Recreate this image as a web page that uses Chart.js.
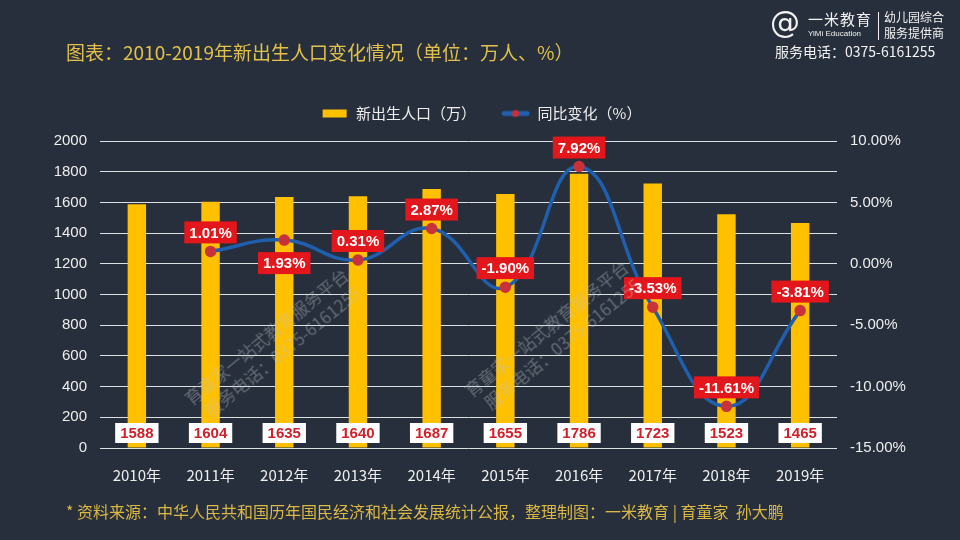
<!DOCTYPE html>
<html lang="zh-CN">
<head>
<meta charset="utf-8">
<title>2010-2019年新出生人口变化情况</title>
<script src="https://cdn.jsdelivr.net/npm/chart.js@4.4.1/dist/chart.umd.min.js"></script>
<style>
  html, body { margin: 0; padding: 0; }
  body {
    width: 960px; height: 540px; overflow: hidden; position: relative;
    background: #262f3b;
    font-family: "Noto Sans CJK SC", "Noto Sans", sans-serif;
  }
  #chartBox { position: absolute; left: 0; top: 0; width: 960px; height: 540px; }
  .title {
    position: absolute; left: 66px; top: 40px;
    color: #e2c04c; font-size: 19px; line-height: 24px; white-space: nowrap;
  }
  .footer {
    position: absolute; left: 66px; top: 500px;
    color: #dcb845; font-size: 16px; line-height: 22px; white-space: nowrap;
  }
  .phone {
    position: absolute; left: 775px; top: 42px;
    color: #f2f2f2; font-size: 14px; line-height: 18px; white-space: nowrap;
  }
  .logo { position: absolute; left: 770px; top: 8px; height: 34px; color: #f2f2f2; white-space: nowrap; }
  .logo .at { position: absolute; left: 0; top: -2px; font-size: 30px; font-family: "DejaVu Sans", sans-serif; line-height: 34px; }
  .logo .brand { position: absolute; left: 38px; top: 2px; font-size: 15px; line-height: 18px; letter-spacing: 1px; }
  .logo .en { position: absolute; left: 38px; top: 21px; font-size: 8px; line-height: 10px; font-family: "Liberation Sans", sans-serif; }
  .logo .bar { position: absolute; left: 108px; top: 4px; width: 1px; height: 28px; background: #f2f2f2; }
  .logo .svc { position: absolute; left: 114px; top: 1px; font-size: 12px; line-height: 16px; }
  .wm {
    position: absolute; color: rgba(190, 196, 204, 0.4); font-size: 17px; line-height: 22px;
    white-space: nowrap; transform-origin: left top; transform: rotate(-39deg); pointer-events: none;
  }
</style>
</head>
<body>
<div id="chartBox"><canvas id="birthChart" width="960" height="540"></canvas></div>

<div class="title">图表：2010-2019年新出生人口变化情况（单位：万人、%）</div>

<div class="logo">
  <span class="at">@</span>
  <span class="brand">一米教育</span>
  <span class="en">YiMi Education</span>
  <span class="bar"></span>
  <span class="svc">幼儿园综合<br>服务提供商</span>
</div>
<div class="phone">服务电话：0375-6161255</div>

<div class="wm" style="left:180px; top:392px;">育童家一站式教育服务平台<br>&nbsp;&nbsp;服务电话：0375-6161255</div>
<div class="wm" style="left:460px; top:384px;">育童家一站式教育服务平台<br>&nbsp;&nbsp;服务电话：0375-6161255</div>

<div class="footer">* 资料来源：中华人民共和国历年国民经济和社会发展统计公报，整理制图：一米教育 | 育童家&nbsp;&nbsp;孙大鹏</div>

<script>
// data
const years = ["2010年", "2011年", "2012年", "2013年", "2014年", "2015年", "2016年", "2017年", "2018年", "2019年"];
const births = [1588, 1604, 1635, 1640, 1687, 1655, 1786, 1723, 1523, 1465];
const yoyChange = [null, 1.01, 1.93, 0.31, 2.87, -1.90, 7.92, -3.53, -11.61, -3.81];
// where each % label sits relative to its point
const yoyLabelSide = [null, "above", "below", "above", "above", "above", "above", "above", "above", "above"];

const BAR_COLOR = "#ffc000";
const LINE_COLOR = "#1f5fae";
const POINT_COLOR = "#c8323a";
const LABEL_RED = "#e3161b";
const TEXT_LIGHT = "#eeeeee";

// little legend icons
function makeIcon(draw) {
  const c = document.createElement("canvas");
  c.width = 30; c.height = 12;
  draw(c.getContext("2d"));
  return c;
}
const barIcon = makeIcon(g => {
  g.fillStyle = BAR_COLOR;
  g.fillRect(4, 2, 24, 8);
});
const lineIcon = makeIcon(g => {
  g.strokeStyle = LINE_COLOR;
  g.lineWidth = 5;
  g.lineCap = "round";
  g.beginPath(); g.moveTo(4, 6); g.lineTo(27, 6); g.stroke();
  g.fillStyle = POINT_COLOR;
  g.beginPath(); g.arc(15.5, 6, 3.5, 0, Math.PI * 2); g.fill();
});

// extra gap under the legend
const legendGap = {
  id: "legendGap",
  beforeUpdate(chart) {
    const lg = chart.legend;
    if (!lg || lg._gapPatched) return;
    const fit = lg.fit;
    lg.fit = function () {
      fit.call(this);
      this.height += 10;
    };
    lg._gapPatched = true;
  }
};

// value boxes on bars and on the line
const valueLabels = {
  id: "valueLabels",
  afterDatasetsDraw(chart) {
    const ctx = chart.ctx;
    const base = chart.scales.y.getPixelForValue(0);
    ctx.save();
    ctx.font = "bold 15px 'Liberation Sans', Arial, sans-serif";
    ctx.textAlign = "center";
    ctx.textBaseline = "middle";

    chart.getDatasetMeta(0).data.forEach((bar, i) => {
      const txt = String(births[i]);
      const w = ctx.measureText(txt).width + 10;
      const cy = base - 15;
      ctx.fillStyle = "#ffffff";
      ctx.fillRect(bar.x - w / 2, cy - 10, w, 20);
      ctx.fillStyle = "#d0212b";
      ctx.fillText(txt, bar.x, cy + 1);
    });

    chart.getDatasetMeta(1).data.forEach((pt, i) => {
      if (yoyChange[i] === null) return;
      const txt = yoyChange[i].toFixed(2) + "%";
      const w = ctx.measureText(txt).width + 10;
      const cy = yoyLabelSide[i] === "below" ? pt.y + 23 : pt.y - 19;
      ctx.fillStyle = LABEL_RED;
      ctx.fillRect(pt.x - w / 2, cy - 11, w, 22);
      ctx.fillStyle = "#ffffff";
      ctx.fillText(txt, pt.x, cy + 1);
    });
    ctx.restore();
  }
};

new Chart(document.getElementById("birthChart"), {
  data: {
    labels: years,
    datasets: [
      {
        type: "bar",
        label: "新出生人口（万）",
        data: births,
        yAxisID: "y",
        backgroundColor: BAR_COLOR,
        barPercentage: 0.25,
        categoryPercentage: 1,
        order: 2
      },
      {
        type: "line",
        label: "同比变化（%）",
        data: yoyChange,
        yAxisID: "y1",
        borderColor: LINE_COLOR,
        borderWidth: 3.5,
        tension: 0.45,
        pointRadius: 4,
        pointBackgroundColor: POINT_COLOR,
        pointBorderColor: POINT_COLOR,
        order: 1
      }
    ]
  },
  options: {
    responsive: false,
    animation: false,
    layout: { padding: { top: 82, bottom: 42, left: 0, right: 0 } },
    plugins: {
      tooltip: { enabled: false },
      legend: {
        position: "top",
        labels: {
          usePointStyle: true,
          pointStyleWidth: 30,
          boxHeight: 12,
          padding: 24,
          color: TEXT_LIGHT,
          font: { size: 15, family: "'Noto Sans CJK SC', sans-serif" },
          generateLabels: chart => chart.data.datasets.map((ds, i) => ({
            text: ds.label,
            pointStyle: i === 0 ? barIcon : lineIcon,
            fillStyle: "transparent",
            strokeStyle: "transparent",
            lineWidth: 0,
            fontColor: TEXT_LIGHT,
            hidden: false,
            datasetIndex: i
          }))
        }
      }
    },
    scales: {
      x: {
        grid: { display: false },
        border: { display: false },
        ticks: {
          color: TEXT_LIGHT,
          padding: 10,
          font: { size: 15, family: "'Noto Sans CJK SC', sans-serif" }
        },
        afterFit: s => { s.height = 50; }
      },
      y: {
        position: "left",
        min: 0,
        max: 2000,
        border: { display: false },
        grid: { color: "#dcdfe3", lineWidth: 1, drawTicks: false },
        ticks: {
          stepSize: 200,
          padding: 13,
          color: TEXT_LIGHT,
          font: { size: 15, family: "'Liberation Sans', Arial, sans-serif" },
          callback: v => String(v)
        },
        afterFit: s => { s.width = 100; }
      },
      y1: {
        position: "right",
        min: -15,
        max: 10,
        border: { display: false },
        grid: { display: false, drawTicks: false },
        ticks: {
          stepSize: 5,
          padding: 13,
          color: TEXT_LIGHT,
          font: { size: 15, family: "'Liberation Sans', Arial, sans-serif" },
          callback: v => v.toFixed(2) + "%"
        },
        afterFit: s => { s.width = 123; }
      }
    }
  },
  plugins: [legendGap, valueLabels]
});
</script>
</body>
</html>
